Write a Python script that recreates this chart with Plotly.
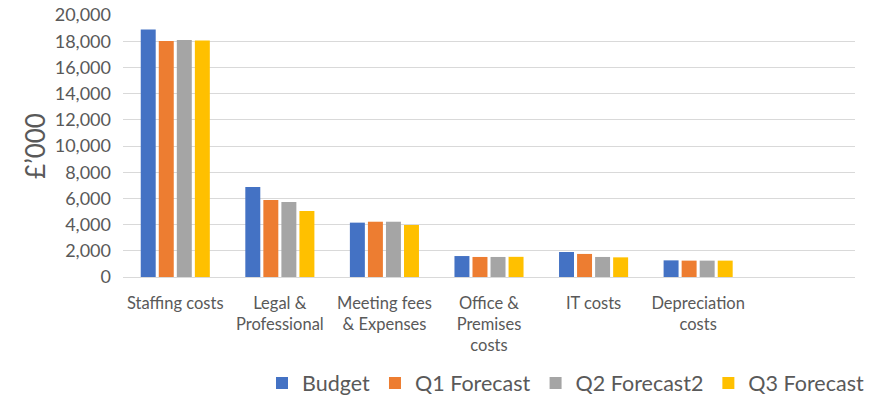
import plotly.graph_objects as go

categories = ["Staffing costs", "Legal &<br>Professional", "Meeting fees<br>& Expenses",
              "Office &<br>Premises<br>costs", "IT costs", "Depreciation<br>costs"]
series_names = ["Budget", "Q1 Forecast", "Q2 Forecast2", "Q3 Forecast"]
budget = [18900, 6870, 4150, 1600, 1910, 1270]
q1_forecast = [18020, 5880, 4220, 1530, 1760, 1250]
q2_forecast2 = [18100, 5720, 4220, 1530, 1530, 1250]
q3_forecast = [18050, 5040, 3970, 1540, 1500, 1250]
colors = ["#4472C4", "#ED7D31", "#A5A5A5", "#FFC000"]
y_ticks = list(range(0, 20001, 2000))

FONT = "Lato"
GREY = "#595959"

fig = go.Figure()
for name, vals, col in zip(series_names, [budget, q1_forecast, q2_forecast2, q3_forecast], colors):
    fig.add_trace(go.Bar(name=name, x=categories, y=vals, marker=dict(color=col, line=dict(width=0))))

fig.update_layout(
    width=869, height=400,
    margin=dict(l=123, r=14, t=15, b=123, autoexpand=False),
    paper_bgcolor="white", plot_bgcolor="white",
    barmode="group", bargap=0.31, bargroupgap=0.17,
    font=dict(family=FONT, color=GREY, size=16.5),
    showlegend=True,
    legend=dict(orientation="h", xref="container", yref="container",
                x=1.0, xanchor="right", y=0.0425, yanchor="middle",
                font=dict(size=21.5, color=GREY), traceorder="normal", itemwidth=30),
)
fig.update_xaxes(type="category", range=[-0.5, 6.5], showgrid=False, showline=False,
                 ticks="", ticklabelstandoff=14, tickfont=dict(size=16.5, color=GREY), fixedrange=True)
fig.update_yaxes(range=[0, 20000], tickvals=y_ticks, tickformat=",", showgrid=True,
                 gridcolor="#D9D9D9", gridwidth=1, zeroline=True, zerolinecolor="#D9D9D9",
                 zerolinewidth=1, showline=False, ticks="", ticklabelstandoff=11,
                 tickfont=dict(size=18, color=GREY), fixedrange=True,
                 title=dict(text="£’000", font=dict(size=26, color=GREY), standoff=1))
fig.write_html("out.html", config={"displayModeBar": False},
               post_script="document.body.style.margin='0px';")
